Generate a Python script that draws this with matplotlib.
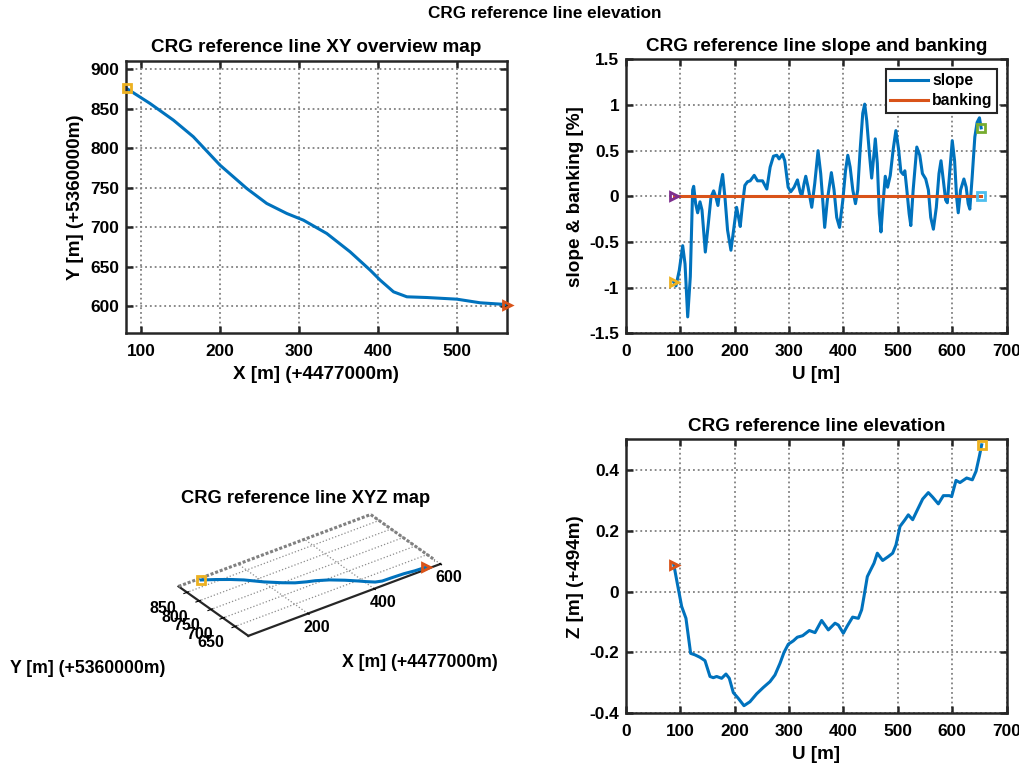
import numpy as np
import matplotlib
matplotlib.use('Agg')
import matplotlib.pyplot as plt

# reference line in XY (offsets +4477000 / +5360000 removed)
ref_x = [81.8, 111.4, 141, 166.3, 200.1, 233.9, 259.2, 284.6, 305.7, 335.3,
         364.8, 390.2, 402.9, 419.8, 436.7, 462, 500, 529.6, 563]
ref_y = [875.9, 856.9, 835.8, 814.7, 778.7, 749.2, 730.2, 717.5, 709, 692.1,
         668.9, 645.7, 633, 618.2, 611.9, 611, 608.9, 604.3, 602.1]
z_offset = 494

# slope along U [%]
slope_u = [88, 92, 98, 104.3, 108.6, 113.5, 118.3, 122.6, 124.5, 128.1,
           131.8, 136.1, 139.8, 145.9, 151.4, 156.3, 161.2, 165.4, 169.1, 173.4,
           177.7, 182, 186.8, 193, 197.9, 203.4, 207, 210.1, 214.4, 218.6,
           223.5, 228.4, 235.8, 241.9, 251.1, 259, 265.1, 271.2, 277.3, 281.6,
           287.8, 292, 298.2, 303, 309.2, 315.3, 320.2, 323.2, 327.5, 330.6,
           334.9, 341.6, 347.1, 353.2, 358.1, 361.8, 365.4, 370.3, 377.7, 382.6,
           387.5, 392.7, 398.8, 403.7, 407.9, 412.2, 417.1, 422, 426.2, 430.5,
           435.4, 439, 442.7, 447.6, 451.8, 455.5, 458.5, 462.2, 465.9, 468.9,
           472.6, 476.8, 481.1, 486, 491.5, 496.3, 501.2, 505.5, 509.8, 512.8,
           516.5, 520.7, 523.8, 528.1, 534.8, 540.3, 545.1, 551.2, 556.1, 560.4,
           565.3, 570.7, 575.6, 579.3, 583.5, 587.8, 590.9, 595.1, 600, 604.3,
           608, 611, 615.3, 621.4, 625.6, 629.3, 632.3, 636.6, 641.5, 645.7,
           650, 653.1]
slope_pct = [-0.94, -0.98, -0.81, -0.54, -0.74, -1.32, -0.88, 0.07, 0.11, -0.08,
             -0.18, -0.06, -0.15, -0.61, -0.30, -0.01, 0.06, -0.01, -0.10, 0.10,
             0.24, -0.01, -0.37, -0.59, -0.37, -0.12, -0.23, -0.33, -0.08, 0.12,
             0.16, 0.17, 0.23, 0.17, 0.17, 0.08, 0.32, 0.44, 0.45, 0.41,
             0.46, 0.39, 0.10, 0.05, 0.10, 0.18, 0.05, 0.00, 0.14, 0.22,
             0.10, -0.12, 0.14, 0.50, 0.25, -0.04, -0.34, -0.04, 0.26, 0.07,
             -0.23, -0.34, -0.04, 0.28, 0.45, 0.32, 0.07, -0.08, 0.07, 0.50,
             0.91, 1.01, 0.83, 0.47, 0.20, 0.43, 0.63, 0.36, -0.19, -0.39,
             -0.08, 0.22, 0.10, 0.23, 0.52, 0.72, 0.52, 0.27, 0.24, 0.28,
             0.07, -0.19, -0.32, 0.07, 0.54, 0.45, 0.25, 0.19, 0.07, -0.23,
             -0.36, -0.12, 0.25, 0.39, 0.18, -0.04, -0.07, 0.25, 0.61, 0.39,
             -0.01, -0.18, 0.07, 0.19, 0.10, -0.08, -0.14, 0.21, 0.65, 0.81,
             0.86, 0.75]
bank_u = [88, 653.1]
bank_pct = [0, 0]

# elevation along U (offset +494 removed)
elev_u = [88, 93.2, 102.4, 110.3, 118.9, 126.9, 136.1, 145.3, 154.5, 160.6,
          166.7, 175.9, 183.9, 190, 197.4, 206.6, 217, 228, 240.3, 252.6,
          264.8, 274, 283.2, 290.6, 298.5, 307.7, 315.1, 324.9, 337.2, 347.6,
          359.8, 372.1, 384.4, 390.5, 399.7, 407, 416.8, 427.3, 433.4, 437.7,
          443.8, 449.9, 456.1, 462.2, 472, 482.4, 490.4, 496.5, 503.9, 513.1,
          519.2, 527.2, 535.8, 545.6, 556, 564, 574.4, 583.6, 594.6, 598.9,
          606.9, 614.2, 626.5, 636.9, 643.7, 649.8, 654.1]
elev_z = [0.088, 0.038, -0.049, -0.088, -0.203, -0.208, -0.216, -0.227, -0.279, -0.283,
          -0.279, -0.285, -0.271, -0.285, -0.332, -0.351, -0.375, -0.362, -0.336, -0.315,
          -0.296, -0.274, -0.236, -0.2, -0.173, -0.162, -0.150, -0.145, -0.128, -0.135,
          -0.095, -0.126, -0.104, -0.110, -0.137, -0.113, -0.084, -0.088, -0.060, -0.016,
          0.049, 0.071, 0.093, 0.126, 0.102, 0.115, 0.126, 0.153, 0.214, 0.236,
          0.252, 0.236, 0.268, 0.304, 0.325, 0.310, 0.288, 0.315, 0.315, 0.312,
          0.365, 0.358, 0.373, 0.367, 0.395, 0.444, 0.482]

blue = '#0072BD'
red = '#D95319'
yellow = '#EDB120'
purple = '#7E2F8E'
green = '#77AC30'
cyan = '#4DBEEE'

plt.rcParams['font.family'] = ['Liberation Sans', 'DejaVu Sans']
plt.rcParams['font.weight'] = 'bold'
plt.rcParams['axes.titleweight'] = 'bold'
plt.rcParams['axes.labelweight'] = 'bold'
plt.rcParams['axes.unicode_minus'] = False
plt.rcParams['lines.solid_joinstyle'] = 'round'

TICK = 12.4
LAB = 13.6


def style(ax):
    ax.grid(True, ls=':', color='0.5', lw=1.3)
    for sp in ax.spines.values():
        sp.set_linewidth(1.8)
        sp.set_color('#262626')
    ax.tick_params(direction='in', length=5, width=1.8, top=True, right=True,
                   labelsize=TICK, color='#262626')
    ax.tick_params(axis='x', pad=8)
    ax.tick_params(axis='y', pad=5)


def marker(ax, x, y, m, c):
    ax.plot([x], [y], m, mfc='none', mec=c, mew=2, ms=6, clip_on=False, zorder=5)


fig = plt.figure(figsize=(10.2, 7.67), dpi=100)
fig.text(0.534, 0.982, 'CRG reference line elevation', ha='center', va='center',
         fontsize=12.3, fontweight='bold')

# XY overview
ax1 = fig.add_axes([0.1235, 0.5658, 0.3732, 0.355])
ax1.plot(ref_x, ref_y, color=blue, lw=2.2)
marker(ax1, ref_x[0], ref_y[0], 's', yellow)
marker(ax1, ref_x[-1], ref_y[-1], '>', red)
ax1.set_xlim(81, 563)
ax1.set_ylim(566, 911)
ax1.set_xticks([100, 200, 300, 400, 500])
ax1.set_yticks([600, 650, 700, 750, 800, 850, 900])
style(ax1)
ax1.set_title('CRG reference line XY overview map', fontsize=LAB)
ax1.set_xlabel('X [m] (+4477000m)', fontsize=LAB, labelpad=5)
ax1.set_ylabel('Y [m] (+5360000m)', fontsize=LAB, labelpad=4)

# slope and banking
ax2 = fig.add_axes([0.6137, 0.5654, 0.3732, 0.3572])
ax2.plot(slope_u, slope_pct, color=blue, lw=2.2, label='slope')
ax2.plot(bank_u, bank_pct, color=red, lw=2.2, label='banking')
marker(ax2, slope_u[0], slope_pct[0], '>', yellow)
marker(ax2, slope_u[-1], slope_pct[-1], 's', green)
marker(ax2, bank_u[0], bank_pct[0], '>', purple)
marker(ax2, bank_u[-1], bank_pct[-1], 's', cyan)
ax2.set_xlim(0, 700)
ax2.set_ylim(-1.5, 1.5)
ax2.set_yticks([-1.5, -1, -0.5, 0, 0.5, 1, 1.5])
ax2.set_yticklabels(['-1.5', '-1', '-0.5', '0', '0.5', '1', '1.5'])
style(ax2)
ax2.set_title('CRG reference line slope and banking', fontsize=LAB)
ax2.set_xlabel('U [m]', fontsize=LAB, labelpad=5)
ax2.set_ylabel('slope & banking [%]', fontsize=LAB, labelpad=4)
leg = ax2.legend(loc='upper right', fontsize=11.3, fancybox=False, framealpha=1,
                 edgecolor='#262626', borderaxespad=0.6, handlelength=2.4,
                 handletextpad=0.25, labelspacing=0.3, borderpad=0.3)
leg.get_frame().set_linewidth(1.5)

# elevation
ax4 = fig.add_axes([0.6137, 0.0700, 0.3732, 0.3572])
ax4.plot(elev_u, elev_z, color=blue, lw=2.2)
marker(ax4, elev_u[0], elev_z[0], '>', red)
marker(ax4, elev_u[-1], elev_z[-1], 's', yellow)
ax4.set_xlim(0, 700)
ax4.set_ylim(-0.4, 0.5)
ax4.set_yticks([-0.4, -0.2, 0, 0.2, 0.4])
ax4.set_yticklabels(['-0.4', '-0.2', '0', '0.2', '0.4'])
style(ax4)
ax4.set_title('CRG reference line elevation', fontsize=LAB)
ax4.set_xlabel('U [m]', fontsize=LAB, labelpad=5)
ax4.set_ylabel('Z [m] (+494m)', fontsize=LAB, labelpad=4)

# XYZ map (square-ish axes so the flat box fills the same width as the original)
ax3 = fig.add_axes([0.15, 0.078, 0.30, 0.336], projection='3d', proj_type='ortho')
xl = (20, 600)
yl = (595, 885)
zl = (493.6, 494.5)
# back edges of the (flat) box
ax3.plot([xl[0], xl[1], xl[1]], [yl[1], yl[1], yl[0]], [zl[0]] * 3,
         color='0.5', lw=2.2, ls=(0, (1, 0.6)))
zz = np.full(len(ref_x), z_offset)
ax3.plot(ref_x, ref_y, zz, color=blue, lw=2.2)
ax3.plot([ref_x[0]], [ref_y[0]], [z_offset], 's', mfc='none', mec=yellow, mew=2, ms=6)
ax3.plot([ref_x[-1]], [ref_y[-1]], [z_offset], '>', mfc='none', mec=red, mew=2, ms=6)
ax3.set_xlim(*xl)
ax3.set_ylim(*yl)
ax3.set_zlim(*zl)
ax3.set_box_aspect((580, 290, 2))
ax3.view_init(elev=31, azim=-126)
ax3.set_xticks([200, 400, 600])
ax3.set_yticks([650, 700, 750, 800, 850])
ax3.set_zticks([])
for axis in (ax3.xaxis, ax3.yaxis, ax3.zaxis):
    axis.set_pane_color((1, 1, 1, 0))
    axis._axinfo['grid'].update(color='0.55', linestyle=':', linewidth=0.9)
    axis.line.set_linewidth(1.6)
    axis.line.set_color('#262626')
ax3.zaxis.line.set_visible(False)
ax3.tick_params(labelsize=11.5, pad=4)
ax3.patch.set_alpha(0)
fig.text(0.30, 0.350, 'CRG reference line XYZ map', ha='center', va='center',
         fontsize=13.2, fontweight='bold')
fig.text(0.412, 0.136, 'X [m] (+4477000m)', ha='center', va='center',
         fontsize=12.7, fontweight='bold')
fig.text(0.086, 0.128, 'Y [m] (+5360000m)', ha='center', va='center',
         fontsize=12.7, fontweight='bold')

fig.savefig('out.png', dpi=100)
